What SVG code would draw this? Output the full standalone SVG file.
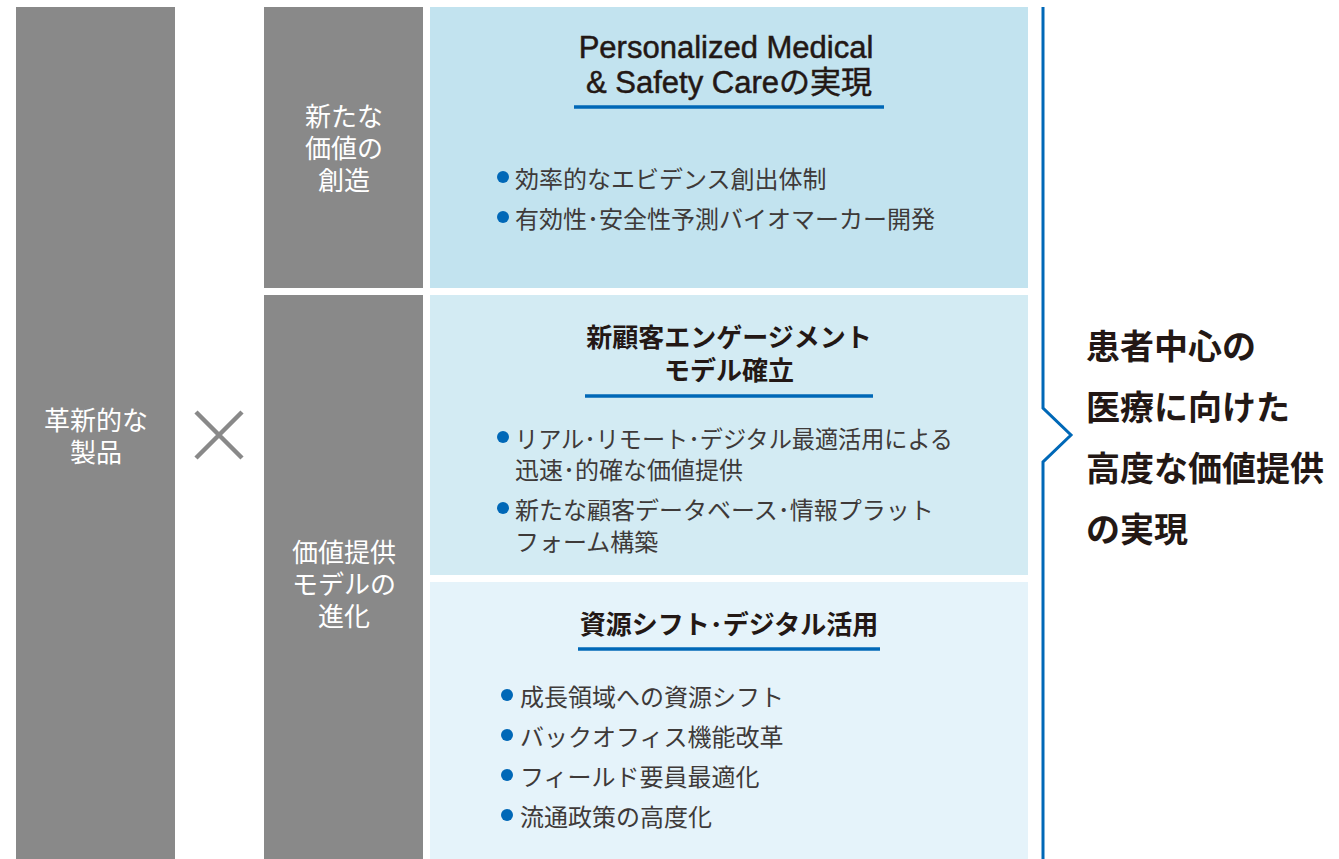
<svg xmlns="http://www.w3.org/2000/svg" width="1339" height="859" viewBox="0 0 1339 859">
<style>
.gray{fill:#898989}
.wt{fill:#fff;font-family:"Liberation Sans","Noto Sans CJK JP",sans-serif;font-size:26px;text-anchor:middle;dominant-baseline:central}
.ttl{fill:#231815;font-family:"Liberation Sans","Noto Sans CJK JP",sans-serif;font-size:26px;font-weight:bold;text-anchor:middle;dominant-baseline:central}
.ttlL{fill:#231815;stroke:#231815;stroke-width:0.5;font-family:"Liberation Sans","Noto Sans CJK JP",sans-serif;font-size:31px;text-anchor:middle}
.bt{fill:#3e3a39;font-family:"Liberation Sans","Noto Sans CJK JP",sans-serif;font-size:24px;dominant-baseline:central}
.bul{fill:#0068b7}
.ul{stroke:#0068b7;stroke-width:3.5;fill:none}
.big{fill:#231815;font-family:"Noto Sans CJK JP",sans-serif;font-size:34px;font-weight:bold;dominant-baseline:central}
</style>
<rect width="1339" height="859" fill="#fff"/>
<g id="products">
<rect class="gray" x="16" y="7" width="159" height="852"/>
<text class="wt"><tspan x="96" y="421">革新的な</tspan><tspan x="96" y="453">製品</tspan></text>
</g>
<g id="times">
<path d="M196 412 L242 458 M242 412 L196 458" stroke="#898989" stroke-width="4.5" fill="none"/>
</g>
<g id="value-creation">
<rect class="gray" x="264" y="7" width="159" height="281"/>
<text class="wt"><tspan x="344" y="117">新たな</tspan><tspan x="344" y="149">価値の</tspan><tspan x="344" y="181">創造</tspan></text>
</g>
<g id="value-model">
<rect class="gray" x="264" y="295" width="159" height="564"/>
<text class="wt"><tspan x="344" y="553">価値提供</tspan><tspan x="344" y="585">モデルの</tspan><tspan x="344" y="617">進化</tspan></text>
</g>
<g id="panel-pmsc">
<rect x="430" y="7" width="598" height="281" fill="#c2e3ef"/>
<text class="ttlL"><tspan x="726" y="58">Personalized Medical</tspan><tspan x="729" y="93">&amp; Safety Careの実現</tspan></text>
<line class="ul" x1="574" y1="107" x2="884" y2="107"/>
<circle class="bul" cx="503" cy="177" r="6"/>
<text class="bt" x="515" y="179">効率的なエビデンス創出体制</text>
<circle class="bul" cx="503" cy="217" r="6"/>
<text class="bt" x="515" y="219">有効性･安全性予測バイオマーカー開発</text>
</g>
<g id="panel-engagement">
<rect x="430" y="295" width="598" height="280" fill="#d3ebf3"/>
<text class="ttl"><tspan x="729" y="338">新顧客エンゲージメント</tspan><tspan x="729" y="371">モデル確立</tspan></text>
<line class="ul" x1="585" y1="396" x2="873" y2="396"/>
<circle class="bul" cx="503" cy="437" r="6"/>
<text class="bt"><tspan x="515" y="439" textLength="438" lengthAdjust="spacingAndGlyphs">リアル･リモート･デジタル最適活用による</tspan><tspan x="515" y="470">迅速･的確な価値提供</tspan></text>
<circle class="bul" cx="503" cy="508" r="6"/>
<text class="bt"><tspan x="515" y="510">新たな顧客データベース･情報プラット</tspan><tspan x="515" y="542">フォーム構築</tspan></text>
</g>
<g id="panel-resource">
<rect x="430" y="582" width="598" height="277" fill="#e5f3fa"/>
<text class="ttl" x="729" y="625">資源シフト･デジタル活用</text>
<line class="ul" x1="578" y1="649" x2="880" y2="649"/>
<circle class="bul" cx="507" cy="695" r="6"/>
<text class="bt" x="520" y="697">成長領域への資源シフト</text>
<circle class="bul" cx="507" cy="735" r="6"/>
<text class="bt" x="520" y="737">バックオフィス機能改革</text>
<circle class="bul" cx="507" cy="775" r="6"/>
<text class="bt" x="520" y="777">フィールド要員最適化</text>
<circle class="bul" cx="507" cy="815" r="6"/>
<text class="bt" x="520" y="817">流通政策の高度化</text>
</g>
<g id="connectors">
<path d="M1043 7 V408 L1071 435 L1043 462 V859" stroke="#0068b7" stroke-width="3" fill="none"/>
</g>
<g id="goal">
<text class="big" x="1086" y="344">患者中心の</text>
<text class="big" x="1086" y="405">医療に向けた</text>
<text class="big" x="1086" y="466">高度な価値提供</text>
<text class="big" x="1086" y="527">の実現</text>
</g>
</svg>
